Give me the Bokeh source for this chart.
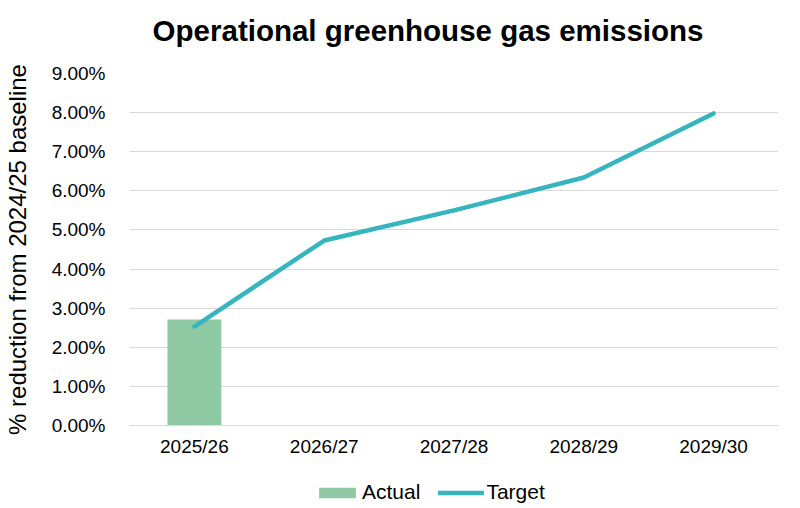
from bokeh.plotting import figure
from bokeh.layouts import column
from bokeh.models import (Range1d, SingleIntervalTicker, PrintfTickFormatter, Legend, LegendItem)
from bokeh.core.properties import value
from bokeh.embed import file_html
from bokeh.resources import INLINE

years = ["2025/26", "2026/27", "2027/28", "2028/29", "2029/30"]
actual_years = ["2025/26"]
actual_values = [2.71]
target_values = [2.53, 4.73, 5.50, 6.34, 7.98]
title_text = "Operational greenhouse gas emissions"

FONT = "Liberation Sans"
BAR_COLOR = "#8FC9A3"
LINE_COLOR = "#36B5BF"

# title strip (its frame is aligned with the chart frame, 128..778 px)
tf = figure(width=800, height=60, x_range=Range1d(128, 778), y_range=Range1d(0, 60),
            output_backend="svg", toolbar_location=None,
            min_border_left=0, min_border_right=0, min_border_top=0, min_border_bottom=0)
tf.axis.visible = False
tf.grid.visible = False
tf.outline_line_color = None
tf.text(x=[427], y=[30], text=[title_text], text_align="center", text_baseline="middle",
        text_font=value(FONT), text_font_size="29.5px", text_font_style="bold", text_color="#000000")

p = figure(width=800, height=404, x_range=years, y_range=Range1d(0, 9),
           output_backend="svg", toolbar_location=None,
           min_border_left=0, min_border_right=22, min_border_top=13, min_border_bottom=39)

p.vbar(x=actual_years, top=actual_values, width=0.415, fill_color=BAR_COLOR, line_color=None)
p.line(x=years, y=target_values, line_color=LINE_COLOR, line_width=4.5, line_cap="round", line_join="round")

p.yaxis.ticker = SingleIntervalTicker(interval=1)
p.yaxis.formatter = PrintfTickFormatter(format="%.2f%%")
p.yaxis.axis_label = "% reduction from 2024/25 baseline"
for ax in (p.xaxis[0], p.yaxis[0]):
    ax.major_label_text_font = FONT
    ax.major_label_text_font_size = "19px"
    ax.major_label_text_color = "#000000"
    ax.major_tick_line_color = None
    ax.minor_tick_line_color = None
p.yaxis.axis_line_color = None
p.yaxis.axis_label_text_font = FONT
p.yaxis.axis_label_text_font_size = "24px"
p.yaxis.axis_label_text_font_style = "normal"
p.yaxis.axis_label_text_color = "#000000"
p.yaxis.axis_label_standoff = 18
p.yaxis.major_label_standoff = 18
p.xaxis.axis_line_color = "#D9D9D9"
p.xaxis.major_label_standoff = 4

p.xgrid.grid_line_color = None
p.ygrid.grid_line_color = "#D9D9D9"
p.ygrid.grid_line_width = 1
p.outline_line_color = None

# legend strip below the chart (renderers hold off-screen dummy points so only the legend shows)
lg = figure(width=800, height=44, x_range=Range1d(0, 1), y_range=Range1d(0, 1),
            output_backend="svg", toolbar_location=None,
            min_border_left=0, min_border_right=0, min_border_top=8, min_border_bottom=0)
lg.axis.visible = False
lg.grid.visible = False
lg.outline_line_color = None
lg.background_fill_alpha = 0
r_bar = lg.vbar(x=[5], top=[5], bottom=[4], width=0.4, fill_color=BAR_COLOR, line_color=None)
r_line = lg.line(x=[5, 6], y=[5, 5], line_color=LINE_COLOR, line_width=4.5, line_cap="round")

legend = Legend(items=[LegendItem(label="Actual", renderers=[r_bar]),
                       LegendItem(label="Target", renderers=[r_line])],
                orientation="horizontal", location=(185, 4),
                label_text_font=FONT, label_text_font_size="21px", label_text_color="#000000",
                glyph_width=46, glyph_height=13, spacing=18, border_line_color=None,
                background_fill_alpha=0,
                label_standoff=2, margin=0, padding=4)
lg.add_layout(legend, "center")

layout = column(tf, p, lg, spacing=0)
open("out.html", "w").write(file_html(layout, INLINE))
